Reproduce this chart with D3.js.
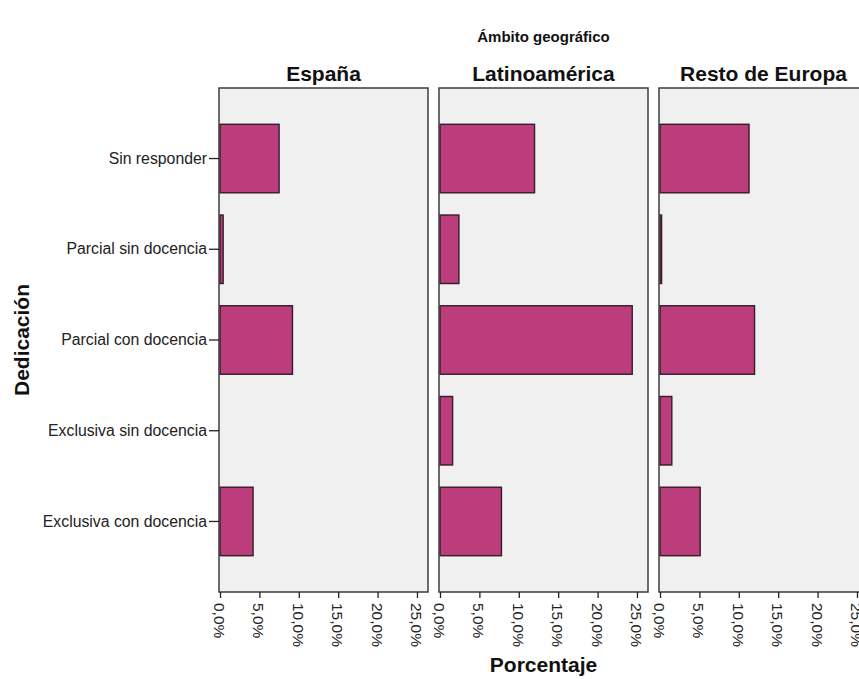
<!DOCTYPE html>
<html>
<head>
<meta charset="utf-8">
<script src="https://cdn.jsdelivr.net/npm/d3@7"></script>
<style>
  body { margin: 0; background: #ffffff; }
  svg { display: block; font-family: "Liberation Sans", Arial, sans-serif; }
</style>
</head>
<body>
<svg id="chart" width="859" height="679"></svg>
<script>
// Dedication categories (y axis) and geographic panels
const categories = [
  "Sin responder",
  "Parcial sin docencia",
  "Parcial con docencia",
  "Exclusiva sin docencia",
  "Exclusiva con docencia"
];
const regions = ["España", "Latinoamérica", "Resto de Europa"];

// Percentage of respondents per category, one array per region
const espana        = [7.5, 0.4, 9.2, 0.0, 4.2];
const latinoamerica = [12.0, 2.4, 24.4, 1.6, 7.8];
const restoEuropa   = [11.3, 0.2, 12.0, 1.5, 5.1];

// Percentage axis ticks
const xTicks = [0, 5, 10, 15, 20, 25];
const xMax = 26.4;

const seriesByRegion = [espana, latinoamerica, restoEuropa];

const svg = d3.select("#chart");

const panelTop = 88, panelBottom = 592;
const panelWidth = 209, panelGap = 11, firstPanelLeft = 219;

const x = d3.scaleLinear().domain([0, xMax]).range([1, panelWidth]);
const y = d3.scaleBand()
  .domain(categories)
  .range([panelTop, panelBottom])
  .paddingInner(0.245)
  .paddingOuter(0.40);

const fmt = v => d3.format(".1f")(v).replace(".", ",") + "%";

// Overall title for the panel variable
svg.append("text")
  .attr("x", firstPanelLeft + (3 * panelWidth + 2 * panelGap) / 2)
  .attr("y", 42)
  .attr("text-anchor", "middle")
  .attr("font-size", 15)
  .attr("font-weight", "bold")
  .attr("fill", "#111")
  .text("Ámbito geográfico");

regions.forEach((name, i) => {
  const left = firstPanelLeft + i * (panelWidth + panelGap);
  const g = svg.append("g").attr("transform", `translate(${left},0)`);

  // panel header
  g.append("text")
    .attr("x", panelWidth / 2)
    .attr("y", 81)
    .attr("text-anchor", "middle")
    .attr("font-size", 21)
    .attr("font-weight", "bold")
    .attr("fill", "#111")
    .text(name);

  // panel background
  g.append("rect")
    .attr("x", 0)
    .attr("y", panelTop)
    .attr("width", panelWidth)
    .attr("height", panelBottom - panelTop)
    .attr("fill", "#f0f0f0");

  // bars
  const rows = categories.map((c, k) => ({ cat: c, value: seriesByRegion[i][k] }));
  g.selectAll("rect.bar")
    .data(rows.filter(d => d.value > 0))
    .join("rect")
    .attr("class", "bar")
    .attr("x", x(0))
    .attr("y", d => y(d.cat))
    .attr("width", d => x(d.value) - x(0))
    .attr("height", y.bandwidth())
    .attr("fill", "#bb3d7c")
    .attr("stroke", "#361c29")
    .attr("stroke-width", 1.4);

  // panel frame
  g.append("rect")
    .attr("x", 0)
    .attr("y", panelTop)
    .attr("width", panelWidth)
    .attr("height", panelBottom - panelTop)
    .attr("fill", "none")
    .attr("stroke", "#3c3c3c")
    .attr("stroke-width", 1.5);

  // percentage axis
  const xAxis = g.append("g")
    .attr("transform", `translate(0,${panelBottom})`)
    .call(d3.axisBottom(x).tickValues(xTicks).tickFormat(fmt).tickSize(6).tickSizeOuter(0));
  xAxis.select(".domain").remove();
  xAxis.selectAll(".tick line").attr("stroke", "#222").attr("stroke-width", 1.3);
  xAxis.selectAll(".tick text")
    .attr("font-size", 15.5)
    .attr("font-family", "Liberation Sans, Arial, sans-serif")
    .attr("fill", "#222")
    .attr("transform", "rotate(90)")
    .attr("x", 11)
    .attr("y", 1)
    .attr("dy", "0.35em")
    .attr("text-anchor", "start");

  // category axis on the first panel
  if (i === 0) {
    const yAxis = g.append("g")
      .call(d3.axisLeft(y).tickSize(10).tickSizeOuter(0).tickPadding(2));
    yAxis.select(".domain").remove();
    yAxis.selectAll(".tick line").attr("stroke", "#222").attr("stroke-width", 1.3);
    yAxis.selectAll(".tick text")
      .attr("font-size", 15.8)
      .attr("font-family", "Liberation Sans, Arial, sans-serif")
      .attr("fill", "#222");
  }
});

// Axis titles
svg.append("text")
  .attr("transform", `translate(29,${(panelTop + panelBottom) / 2}) rotate(-90)`)
  .attr("text-anchor", "middle")
  .attr("font-size", 21)
  .attr("font-weight", "bold")
  .attr("fill", "#111")
  .text("Dedicación");

svg.append("text")
  .attr("x", firstPanelLeft + (3 * panelWidth + 2 * panelGap) / 2)
  .attr("y", 672)
  .attr("text-anchor", "middle")
  .attr("font-size", 21)
  .attr("font-weight", "bold")
  .attr("fill", "#111")
  .text("Porcentaje");
</script>
</body>
</html>
